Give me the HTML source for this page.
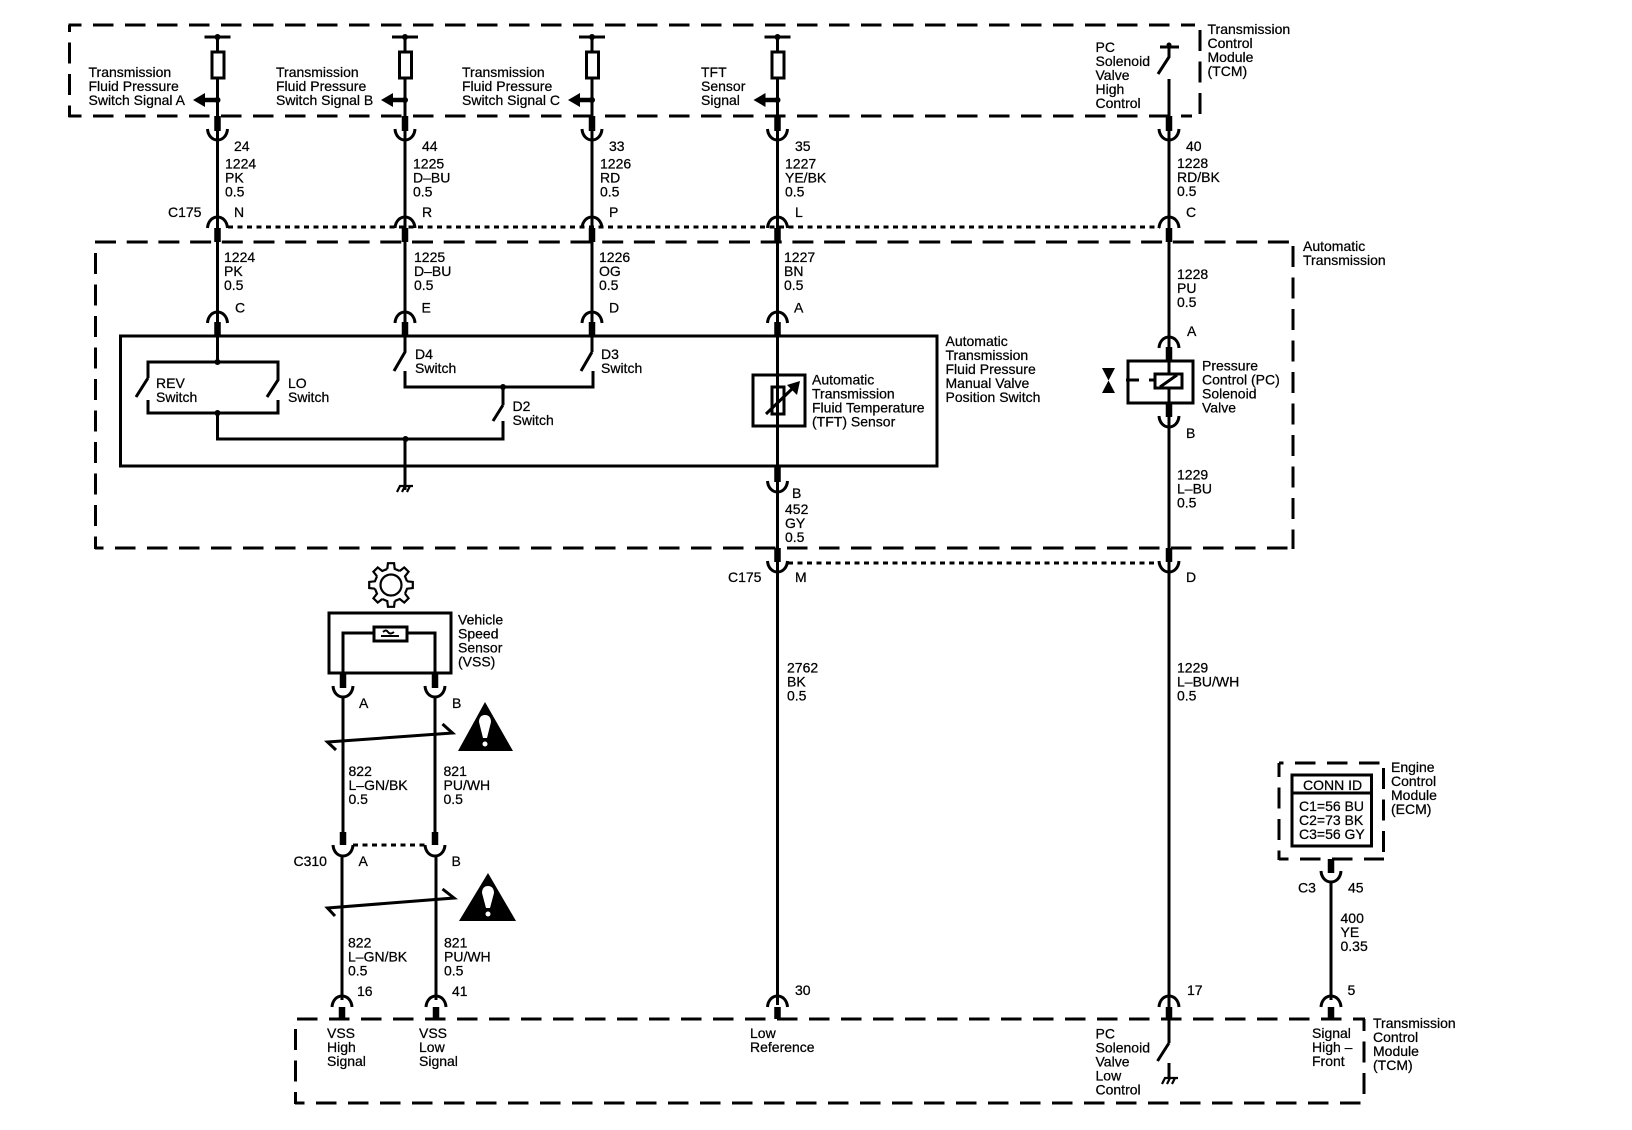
<!DOCTYPE html>
<html><head><meta charset="utf-8"><title>Wiring diagram</title>
<style>
html,body{margin:0;padding:0;background:#fff}
svg{display:block}
text{font-family:"Liberation Sans",sans-serif;font-size:14px;fill:#000;stroke:#000;stroke-width:.25}
.w{fill:none;stroke:#000;stroke-width:3}
.h{fill:none;stroke:#000;stroke-width:6.5}
.d{fill:none;stroke:#000;stroke-width:3;stroke-dasharray:20.500 11.500}
.c{fill:none;stroke:#000;stroke-width:3;stroke-dasharray:21 10.700}
.v{fill:none;stroke:#000;stroke-width:3;stroke-dasharray:21 10.500}
.s{fill:none;stroke:#000;stroke-width:3;stroke-dasharray:5 4.5}
.b{fill:none;stroke:#000;stroke-width:3}
</style></head><body>
<svg xmlns="http://www.w3.org/2000/svg" width="1632" height="1130" viewBox="0 0 1632 1130">
<defs>
<path id="arch" d="M-10 11C-9.500 4-5 0 0 0C5 0 9.500 4 10 11" fill="none" stroke="#000" stroke-width="3"/>
<path id="cup" d="M-10-11C-9.500-4-5 0 0 0C5 0 9.500-4 10-11" fill="none" stroke="#000" stroke-width="3"/>
<path id="gs" d="M16.08-3.71L21.79-3.06L21.79 3.06L16.08 3.71L13.99 8.74" fill="none" stroke="#000" stroke-width="2.2"/>
<g id="gnd"><path d="M-8 6L-5 0H8M-3 6L0 0M2 6L5 0" fill="none" stroke="#000" stroke-width="2.2"/></g>
<g id="term"><path d="M-13 0H13" stroke="#000" stroke-width="3"/><circle r="3" fill="#000"/></g>
<g id="fuse"><rect x="-6" y="0" width="12" height="26" fill="#fff" stroke="#000" stroke-width="3"/></g>
<path id="arr" d="M0 0L12-7V-2.200H24V2.200H12V7Z" fill="#000"/>
</defs>

<!-- dashed boxes -->
<path class="d" d="M68.500 25H1195" stroke-dashoffset="7.500"/><path class="v" d="M1200 30V116"/><path class="d" d="M68.500 116H1192" stroke-dashoffset="7.500"/><path class="v" d="M69.500 25V117" stroke-dashoffset="14"/>
<path class="c" d="M95 242H1290"/><path class="v" d="M95.500 253V549" stroke-dasharray="21 11"/><path class="d" d="M95 548H1293" stroke-dashoffset="12"/><path class="v" d="M1293 246V549"/>
<path class="d" d="M297 1019H1365" stroke-dasharray="21 11"/><path class="v" d="M295.500 1029V1104" stroke-dasharray="21 11"/><path class="d" d="M295 1103H1362" stroke-dasharray="21 11" stroke-dashoffset="11"/><path class="v" d="M1364 1019V1095" stroke-dasharray="21 11" stroke-dashoffset="9"/>
<path class="d" d="M1279 763H1380" stroke-dasharray="21 11" stroke-dashoffset="16"/><path class="v" d="M1279 763V860" stroke-dasharray="20 11" stroke-dashoffset="7"/><path class="d" d="M1279 859H1384" stroke-dasharray="21 11" stroke-dashoffset="11"/><path class="v" d="M1383.500 768V859" stroke-dasharray="20 11"/>

<!-- C175 shorted dashed links -->
<path class="s" d="M228 227H1160"/>
<path class="s" d="M788 563H1160"/>
<path class="s" d="M353 845H426"/>

<!-- main wires -->
<path class="w" d="M217.500 37V336M405 37V336M592 37V336M777.500 37V1005M1169 79V1043M217.500 336V362"/>
<!-- heavy stubs -->
<path class="h" d="M217.500 116V131M405 116V131M592 116V131M777.500 116V131M1169 116V131M217.500 228V242M405 228V242M592 228V242M777.500 228V242M1169 228V242M217.500 322V336M405 322V336M592 322V336M777.500 322V336M1169 347V361M1169 403V417M777.500 466V482M777.500 548V562M1169 548V562M343 673V688M435 673V688M343 832V845M435 832V845M342 1007V1019M436 1007V1019M777.500 1007V1019M1169 1007V1019M1331 859V873M1331 1007V1019"/>

<!-- terminals at top of TCM -->
<use href="#term" x="217.500" y="37"/><use href="#term" x="405" y="37"/><use href="#term" x="592" y="37"/><use href="#term" x="777.500" y="37"/>
<use href="#fuse" x="218" y="52"/><use href="#fuse" x="405.500" y="52"/><use href="#fuse" x="592.500" y="52"/><use href="#fuse" x="778" y="52"/>
<use href="#arr" x="193" y="100"/><use href="#arr" x="381" y="100"/><use href="#arr" x="568" y="100"/><use href="#arr" x="753.500" y="100"/>
<circle cx="217.500" cy="100" r="3" fill="#000"/><circle cx="405" cy="100" r="3" fill="#000"/><circle cx="592" cy="100" r="3" fill="#000"/><circle cx="777.500" cy="100" r="3" fill="#000"/>

<!-- PC high switch -->
<path class="w" d="M1160 47H1179M1169 44V57L1158 74"/><circle cx="1169" cy="45" r="2.500" fill="#000"/>

<!-- connectors -->
<use href="#cup" x="217.500" y="140"/><use href="#cup" x="405" y="140"/><use href="#cup" x="592" y="140"/><use href="#cup" x="777.500" y="140"/><use href="#cup" x="1169" y="140"/>
<use href="#arch" x="217.500" y="217"/><use href="#arch" x="405" y="217"/><use href="#arch" x="592" y="217"/><use href="#arch" x="777.500" y="217"/><use href="#arch" x="1169" y="217"/>
<use href="#arch" x="217.500" y="312"/><use href="#arch" x="405" y="312"/><use href="#arch" x="592" y="312"/><use href="#arch" x="777.500" y="312"/><use href="#arch" x="1169" y="337"/>
<use href="#cup" x="1169" y="427"/><use href="#cup" x="777.500" y="492"/><use href="#cup" x="777.500" y="572"/><use href="#cup" x="1169" y="572"/>
<use href="#cup" x="343" y="697"/><use href="#cup" x="435" y="697"/><use href="#cup" x="343" y="856"/><use href="#cup" x="435" y="856"/>
<use href="#arch" x="342" y="996"/><use href="#arch" x="436" y="996"/><use href="#arch" x="777.500" y="996"/><use href="#arch" x="1169" y="996"/><use href="#arch" x="1331" y="996"/>
<use href="#cup" x="1331" y="882"/>

<!-- switch box -->
<rect x="120.500" y="336" width="816.500" height="130" class="b"/>
<path class="w" d="M148 378V362H278V380L267 397M148 378L136 397M148 400V413H278V400M217.500 413V439H503V421M503 405V387M503 405L493 421M405 439V490"/>
<circle cx="217.500" cy="362" r="3" fill="#000"/><circle cx="217.500" cy="413" r="3" fill="#000"/><circle cx="405.500" cy="439" r="3" fill="#000"/><circle cx="503" cy="387" r="3" fill="#000"/>
<use href="#gnd" x="405" y="486"/>
<path class="w" d="M405 336V352L394 371M405 371V387H593V371M592 352L581 371M592 336V352"/>

<!-- TFT -->
<rect x="753" y="375" width="52" height="51" class="b"/>
<rect x="772" y="387" width="12" height="27" class="b"/>
<path class="w" d="M766 414L794 387"/><path d="M800 381L797 395L787 385Z" fill="#000"/>

<!-- PC solenoid -->
<rect x="1128" y="361" width="65" height="42" class="b"/>
<rect x="1155" y="374" width="27" height="14" class="b" fill="#fff" style="fill:#fff"/>
<path class="w" d="M1160 387L1177 375"/>
<path class="w" d="M1126 380H1139M1149 380H1155"/>
<path d="M1102 368H1115L1102 393H1115Z" fill="#000"/>

<!-- gear -->
<g transform="translate(391 585)">
<use href="#gs"/><use href="#gs" transform="rotate(45)"/><use href="#gs" transform="rotate(90)"/><use href="#gs" transform="rotate(135)"/><use href="#gs" transform="rotate(180)"/><use href="#gs" transform="rotate(225)"/><use href="#gs" transform="rotate(270)"/><use href="#gs" transform="rotate(315)"/>
<circle r="10.500" fill="none" stroke="#000" stroke-width="2.200"/>
</g>

<!-- VSS -->
<rect x="329" y="613" width="122" height="60" class="b"/>
<path class="w" d="M343 673V633H374M407 633H435V673"/>
<rect x="374" y="627" width="33" height="14" fill="#fff" stroke="#000" stroke-width="3"/>
<path d="M381 636H399" stroke="#000" stroke-width="2"/>
<path d="M383 632Q386 629 388 632T394 632" fill="none" stroke="#000" stroke-width="2"/>
<path class="w" d="M343 697V832M435 697V832M342 856V1000M436 856V1000M1331 882V1000"/>

<!-- twist marks -->
<path class="w" d="M336 750L327.500 742L452.500 733L442.500 724"/>
<path class="w" d="M335 916L327.500 908L454 898L442.500 889"/>

<!-- warning triangles -->
<path d="M485 702L513 751H458Z" fill="#000"/>
<path d="M485 715C489 715 491 718 491 722L487 738H483L479 722C479 718 481 715 485 715Z" fill="#fff"/><circle cx="485" cy="744" r="2.500" fill="#fff"/>
<path d="M488 873L516 921H459Z" fill="#000"/>
<path d="M488 886C492 886 494 889 494 893L490 908H486L482 893C482 889 484 886 488 886Z" fill="#fff"/><circle cx="488" cy="914" r="2.500" fill="#fff"/>

<!-- PC low switch and ground -->
<path class="w" d="M1169 1043L1157.500 1061M1169 1063V1078"/>
<use href="#gnd" x="1170" y="1078"/>

<!-- CONN ID -->
<rect x="1292" y="775" width="79.500" height="71" class="b"/>
<path class="b" d="M1292 793H1371.500"/>

<!-- labels -->
<g transform="translate(0 -1)">
<text x="88.500" y="78">Transmission</text><text x="88.500" y="92">Fluid Pressure</text><text x="88.500" y="106">Switch Signal A</text>
<text x="276" y="78">Transmission</text><text x="276" y="92">Fluid Pressure</text><text x="276" y="106">Switch Signal B</text>
<text x="462" y="78">Transmission</text><text x="462" y="92">Fluid Pressure</text><text x="462" y="106">Switch Signal C</text>
<text x="701" y="78">TFT</text><text x="701" y="92">Sensor</text><text x="701" y="106">Signal</text>
<text x="1095.500" y="53">PC</text><text x="1095.500" y="67">Solenoid</text><text x="1095.500" y="81">Valve</text><text x="1095.500" y="95">High</text><text x="1095.500" y="109">Control</text>
<text x="1207.500" y="35">Transmission</text><text x="1207.500" y="49">Control</text><text x="1207.500" y="63">Module</text><text x="1207.500" y="77">(TCM)</text>

<text x="234" y="152">24</text><text x="422" y="152">44</text><text x="609" y="152">33</text><text x="795" y="152">35</text><text x="1186" y="152">40</text>
<text x="225" y="169.500">1224</text><text x="225" y="183.500">PK</text><text x="225" y="197.500">0.5</text>
<text x="413" y="169.500">1225</text><text x="413" y="183.500">D–BU</text><text x="413" y="197.500">0.5</text>
<text x="600" y="169.500">1226</text><text x="600" y="183.500">RD</text><text x="600" y="197.500">0.5</text>
<text x="785" y="169.500">1227</text><text x="785" y="183.500">YE/BK</text><text x="785" y="197.500">0.5</text>
<text x="1177" y="169">1228</text><text x="1177" y="183">RD/BK</text><text x="1177" y="197">0.5</text>

<text x="168" y="218">C175</text><text x="234" y="218">N</text><text x="422" y="218">R</text><text x="609" y="218">P</text><text x="795" y="218">L</text><text x="1186" y="218">C</text>

<text x="224" y="263">1224</text><text x="224" y="277">PK</text><text x="224" y="291">0.5</text>
<text x="414" y="263">1225</text><text x="414" y="277">D–BU</text><text x="414" y="291">0.5</text>
<text x="599" y="263">1226</text><text x="599" y="277">OG</text><text x="599" y="291">0.5</text>
<text x="784" y="263">1227</text><text x="784" y="277">BN</text><text x="784" y="291">0.5</text>
<text x="1177" y="280">1228</text><text x="1177" y="294">PU</text><text x="1177" y="308">0.5</text>
<text x="1303" y="252">Automatic</text><text x="1303" y="266">Transmission</text>

<text x="235" y="313.500">C</text><text x="421.500" y="313.500">E</text><text x="609" y="313.500">D</text><text x="794" y="313.500">A</text><text x="1187" y="337">A</text>
<text x="156" y="389">REV</text><text x="156" y="403">Switch</text>
<text x="288" y="389">LO</text><text x="288" y="403">Switch</text>
<text x="415" y="360">D4</text><text x="415" y="374">Switch</text>
<text x="601" y="360">D3</text><text x="601" y="374">Switch</text>
<text x="512.500" y="412">D2</text><text x="512.500" y="426">Switch</text>
<text x="812" y="385.500">Automatic</text><text x="812" y="399.500">Transmission</text><text x="812" y="413.500">Fluid Temperature</text><text x="812" y="427.500">(TFT) Sensor</text>
<text x="945.500" y="347">Automatic</text><text x="945.500" y="361">Transmission</text><text x="945.500" y="375">Fluid Pressure</text><text x="945.500" y="389">Manual Valve</text><text x="945.500" y="403">Position Switch</text>
<text x="1202" y="371.500">Pressure</text><text x="1202" y="385.500">Control (PC)</text><text x="1202" y="399.500">Solenoid</text><text x="1202" y="413.500">Valve</text>
<text x="1186" y="439">B</text><text x="792" y="499">B</text>
<text x="785" y="515">452</text><text x="785" y="529">GY</text><text x="785" y="543">0.5</text>
<text x="1177" y="480.500">1229</text><text x="1177" y="494.500">L–BU</text><text x="1177" y="508.500">0.5</text>
<text x="728" y="583">C175</text><text x="795" y="583">M</text><text x="1186" y="583">D</text>

<text x="458" y="625.500">Vehicle</text><text x="458" y="639.500">Speed</text><text x="458" y="653.500">Sensor</text><text x="458" y="667.500">(VSS)</text>
<text x="359" y="709">A</text><text x="452" y="709">B</text>
<text x="348.500" y="777">822</text><text x="348.500" y="791">L–GN/BK</text><text x="348.500" y="805">0.5</text>
<text x="443.500" y="777">821</text><text x="443.500" y="791">PU/WH</text><text x="443.500" y="805">0.5</text>
<text x="787" y="673.500">2762</text><text x="787" y="687.500">BK</text><text x="787" y="701.500">0.5</text>
<text x="1177" y="673.500">1229</text><text x="1177" y="687.500">L–BU/WH</text><text x="1177" y="701.500">0.5</text>
<text x="293.500" y="867">C310</text><text x="358.500" y="867">A</text><text x="451.500" y="867">B</text>
<text x="348" y="948.500">822</text><text x="348" y="962.500">L–GN/BK</text><text x="348" y="976.500">0.5</text>
<text x="444" y="948.500">821</text><text x="444" y="962.500">PU/WH</text><text x="444" y="976.500">0.5</text>
<text x="357" y="997">16</text><text x="452" y="997">41</text><text x="795" y="996">30</text><text x="1187" y="996">17</text><text x="1347.500" y="996">5</text>

<text x="327" y="1039">VSS</text><text x="327" y="1053">High</text><text x="327" y="1067">Signal</text>
<text x="419" y="1039">VSS</text><text x="419" y="1053">Low</text><text x="419" y="1067">Signal</text>
<text x="750" y="1039">Low</text><text x="750" y="1053">Reference</text>
<text x="1095.500" y="1039.500">PC</text><text x="1095.500" y="1053.500">Solenoid</text><text x="1095.500" y="1067.500">Valve</text><text x="1095.500" y="1081.500">Low</text><text x="1095.500" y="1095.500">Control</text>
<text x="1312" y="1039">Signal</text><text x="1312" y="1053">High –</text><text x="1312" y="1067">Front</text>
<text x="1373" y="1029">Transmission</text><text x="1373" y="1043">Control</text><text x="1373" y="1057">Module</text><text x="1373" y="1071">(TCM)</text>

<text x="1340.500" y="924">400</text><text x="1340.500" y="938">YE</text><text x="1340.500" y="952">0.35</text>
<text x="1298" y="893.500">C3</text><text x="1348" y="893.500">45</text>
<text x="1391" y="773">Engine</text><text x="1391" y="787">Control</text><text x="1391" y="801">Module</text><text x="1391" y="815">(ECM)</text>
<text x="1303" y="791">CONN ID</text>
<text x="1299" y="812">C1=56 BU</text><text x="1299" y="826">C2=73 BK</text><text x="1299" y="840">C3=56 GY</text>
</g>
</svg>
</body></html>
